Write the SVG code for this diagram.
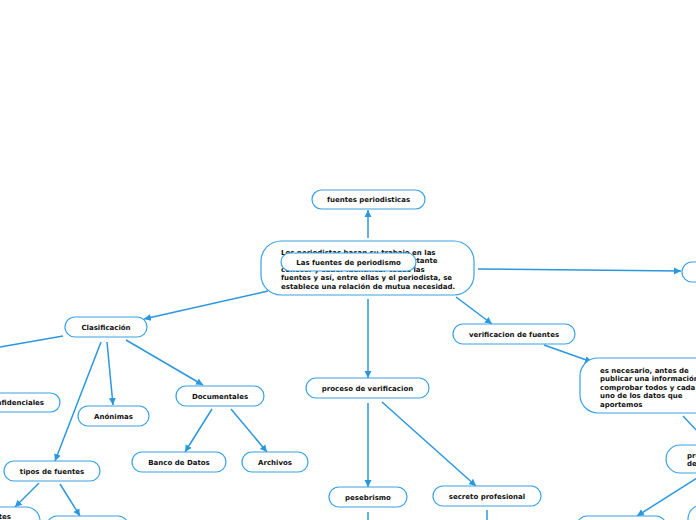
<svg xmlns="http://www.w3.org/2000/svg" width="696" height="520" viewBox="0 0 696 520">
<defs>
<marker id="arr" markerWidth="8" markerHeight="8" refX="7" refY="4" orient="auto" markerUnits="userSpaceOnUse">
<path d="M0,0.5 L7,4 L0,7.5 z" fill="#2b97de"/>
</marker>
<style>
.n{fill:#fff;stroke:#3aa2e6;stroke-width:1.2}
.t{font-family:"DejaVu Sans",Verdana,sans-serif;font-size:7px;font-weight:bold;fill:#111}
.c{text-anchor:middle}
.e{stroke:#2b97de;stroke-width:1.5;fill:none}
.a{marker-end:url(#arr)}
</style>
</defs>
<rect width="696" height="520" fill="#fff"/>
<g id="connectors">
<line class="e a" x1="368" y1="238" x2="368" y2="210"/>
<line class="e a" x1="268" y1="291" x2="144" y2="319"/>
<line class="e a" x1="478" y1="269" x2="681" y2="271"/>
<line class="e a" x1="368" y1="299" x2="368" y2="378"/>
<line class="e a" x1="456" y1="297" x2="492" y2="324"/>
<line class="e" x1="63" y1="336" x2="0" y2="347"/>
<line class="e a" x1="107" y1="342" x2="113" y2="405"/>
<line class="e a" x1="126" y1="340" x2="203" y2="385"/>
<line class="e a" x1="101" y1="342" x2="55" y2="461"/>
<line class="e a" x1="212" y1="409" x2="185" y2="452"/>
<line class="e a" x1="231" y1="409" x2="267" y2="452"/>
<line class="e a" x1="39" y1="483" x2="15" y2="507"/>
<line class="e a" x1="60" y1="484" x2="80" y2="516"/>
<line class="e a" x1="368" y1="403" x2="368" y2="487"/>
<line class="e a" x1="382" y1="402" x2="476" y2="486"/>
<line class="e" x1="368" y1="512" x2="368" y2="520"/>
<line class="e" x1="487" y1="510" x2="487" y2="520"/>
<line class="e a" x1="544" y1="345" x2="592" y2="362"/>
<line class="e" x1="683" y1="416" x2="700" y2="434"/>
<line class="e a" x1="700" y1="476" x2="637" y2="516"/>
</g>
<g id="fuentes-periodisticas">
<rect class="n" x="312" y="190" width="113" height="19" rx="9.5"/>
<text class="t c" x="368.5" y="202">fuentes periodisticas</text>
</g>
<g id="main">
<rect class="n" x="261" y="241" width="213" height="54" rx="20"/>
<text class="t" x="281" y="254.5">Los periodistas basan su trabajo en las</text>
<text class="t" x="281" y="263">fuentes de información y es importante</text>
<text class="t" x="281" y="271.5">conocer y saber identificar todas las</text>
<text class="t" x="281" y="280">fuentes y así, entre ellas y el periodista, se</text>
<text class="t" x="281" y="288.5">establece una relación de mutua necesidad.</text>
</g>
<g id="titulo">
<rect class="n" x="281" y="253" width="135" height="18" rx="9"/>
<text class="t c" x="348.5" y="264.5">Las fuentes de periodismo</text>
</g>
<g id="right-node">
<rect class="n" x="682" y="262" width="40" height="20" rx="10"/>
</g>
<g id="clasificacion">
<rect class="n" x="65" y="317" width="82" height="20" rx="10"/>
<text class="t c" x="106" y="329.5">Clasificación</text>
</g>
<g id="confidenciales">
<rect class="n" x="-30" y="393" width="90" height="19" rx="9.5"/>
<text class="t" x="44" y="405" text-anchor="end">Confidenciales</text>
</g>
<g id="anonimas">
<rect class="n" x="78" y="406" width="71" height="20" rx="10"/>
<text class="t c" x="113.5" y="418.5">Anónimas</text>
</g>
<g id="documentales">
<rect class="n" x="176" y="386" width="88" height="20" rx="10"/>
<text class="t c" x="220" y="398.5">Documentales</text>
</g>
<g id="banco">
<rect class="n" x="132" y="452" width="94" height="20" rx="10"/>
<text class="t c" x="179" y="464.5">Banco de Datos</text>
</g>
<g id="archivos">
<rect class="n" x="242" y="452" width="66" height="20" rx="10"/>
<text class="t c" x="275" y="464.5">Archivos</text>
</g>
<g id="tipos">
<rect class="n" x="4" y="461" width="96" height="20" rx="10"/>
<text class="t c" x="52" y="473.5">tipos de fuentes</text>
</g>
<g id="fuentes-a">
<rect class="n" x="-60" y="507" width="100" height="30" rx="14"/>
<text class="t" x="11" y="519" text-anchor="end">Fuentes</text>
</g>
<g id="fuentes-b">
<rect class="n" x="47" y="516" width="81" height="20" rx="10"/>
</g>
<g id="proceso">
<rect class="n" x="306" y="378" width="123" height="20" rx="10"/>
<text class="t c" x="367.5" y="390.5">proceso de verificacion</text>
</g>
<g id="pesebrismo">
<rect class="n" x="329" y="487" width="78" height="20" rx="10"/>
<text class="t c" x="368" y="499.5">pesebrismo</text>
</g>
<g id="secreto">
<rect class="n" x="433" y="486" width="108" height="20" rx="10"/>
<text class="t c" x="487" y="498.5">secreto profesional</text>
</g>
<g id="verificacion">
<rect class="n" x="453" y="324" width="122" height="20" rx="10"/>
<text class="t c" x="514" y="336.5">verificacion de fuentes</text>
</g>
<g id="necesario">
<rect class="n" x="580" y="358" width="140" height="55" rx="18"/>
<text class="t" x="600" y="372.5">es necesario, antes de</text>
<text class="t" x="600" y="381">publicar una información,</text>
<text class="t" x="600" y="389.5">comprobar todos y cada</text>
<text class="t" x="600" y="398">uno de los datos que</text>
<text class="t" x="600" y="406.5">aportemos</text>
</g>
<g id="pr-de">
<rect class="n" x="666" y="445" width="60" height="28" rx="14"/>
<text class="t" x="687" y="457.5">proceso</text>
<text class="t" x="687" y="466">de verificación</text>
</g>
<g id="br-1">
<rect class="n" x="577" y="516" width="89" height="20" rx="10"/>
</g>
<g id="br-2">
<rect class="n" x="688" y="505" width="40" height="30" rx="14"/>
</g>
</svg>
